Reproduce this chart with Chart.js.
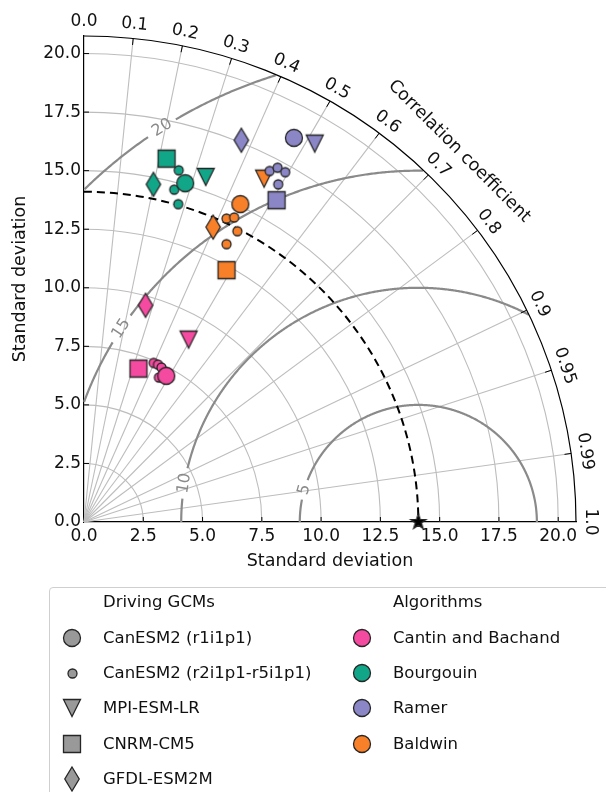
<!DOCTYPE html>
<html>
<head>
<meta charset="utf-8">
<script src="https://cdn.jsdelivr.net/npm/chart.js@4.4.1/dist/chart.umd.min.js"></script>
<style>
  html, body { margin: 0; padding: 0; background: #fff; overflow: hidden; }
  #wrap { position: relative; width: 606px; height: 792px; }
  #chart { position: absolute; left: 0; top: 0; }
  #legendBox { position: absolute; left: 49px; top: 587px; width: 640px; height: 260px;
               border: 1px solid #cfcfcf; border-radius: 4px; box-sizing: border-box; }
  .lg { position: absolute; height: 20px; line-height: 20px; white-space: nowrap;
        font-family: "DejaVu Sans", sans-serif; font-size: 16.5px; color: #111; }
  .mk { position: absolute; }
</style>
</head>
<body>
<div id="wrap">
  <canvas id="chart" width="606" height="792"></canvas>
  <div id="legendBox"></div>
</div>
<script>
// ----- DATOS -----
const algorithms = ['Cantin and Bachand', 'Bourgouin', 'Ramer', 'Baldwin'];
const algoColors = ['#f44a9f', '#12a688', '#8b86c6', '#f88028'];
const gcms = ['CanESM2 (r1i1p1)', 'CanESM2 (r2i1p1-r5i1p1)', 'MPI-ESM-LR', 'CNRM-CM5', 'GFDL-ESM2M'];

const refStd = 14.1;        // desviación estándar de referencia (estrella)
const maxStd = 20.75;       // radio exterior del diagrama
const stdTicks = [0, 2.5, 5, 7.5, 10, 12.5, 15, 17.5, 20];
const corrTicks = [0, 0.1, 0.2, 0.3, 0.4, 0.5, 0.6, 0.7, 0.8, 0.9, 0.95, 0.99, 1.0];
const rmsLevels = [5, 10, 15, 20];
const rmsLabelAngles = [164, 170.5, 146.6, 122.7];   // grados alrededor de la referencia

// CanESM2 (r1i1p1), un valor por algoritmo
const r1Std  = [7.14, 15.08, 18.64, 15.09];
const r1Corr = [0.486, 0.283, 0.475, 0.437];
// CanESM2 (r2i1p1-r5i1p1), cuatro miembros por algoritmo
const ensStd  = [[7.40, 7.41, 7.36, 6.93], [15.54, 15.09, 14.69, 14.14], [16.91, 17.19, 17.18, 16.58], [14.28, 14.46, 14.00, 13.30]];
const ensCorr = [[0.397, 0.421, 0.444, 0.456], [0.257, 0.280, 0.259, 0.281], [0.463, 0.475, 0.494, 0.494], [0.421, 0.438, 0.462, 0.452]];
// MPI-ESM-LR
const mpiStd  = [8.95, 15.60, 18.86, 16.51];
const mpiCorr = [0.493, 0.329, 0.516, 0.460];
// CNRM-CM5
const cnrmStd  = [6.94, 15.90, 15.96, 12.32];
const cnrmCorr = [0.331, 0.219, 0.509, 0.488];
// GFDL-ESM2M
const gfdlStd  = [9.61, 14.71, 17.60, 13.72];
const gfdlCorr = [0.270, 0.199, 0.377, 0.397];

const FONT = '"DejaVu Sans", sans-serif';

// Convierte (desviación, correlación) a coordenadas cartesianas
function toXY(s, c) {
    return { x: s * c, y: s * Math.sqrt(1 - c * c) };
}

/**
 * Dibuja un marcador en un canvas pequeño para usarlo como pointStyle
 */
function makeMarker(shape, fill, s) {
    const w = Math.ceil(s * 1.6) + 4;
    const c = document.createElement('canvas');
    c.width = w; c.height = w;
    const g = c.getContext('2d');
    g.translate(w / 2, w / 2);
    g.beginPath();
    if (shape === 'circle') {
        g.arc(0, 0, s / 2, 0, Math.PI * 2);
    } else if (shape === 'square') {
        g.rect(-s / 2, -s / 2, s, s);
    } else if (shape === 'tri') {
        g.moveTo(0, s / 2); g.lineTo(-s / 2, -s / 2); g.lineTo(s / 2, -s / 2); g.closePath();
    } else if (shape === 'diamond') {
        const h = s * 0.707, hw = h * 0.6;
        g.moveTo(0, -h); g.lineTo(hw, 0); g.lineTo(0, h); g.lineTo(-hw, 0); g.closePath();
    } else if (shape === 'star') {
        for (let i = 0; i < 10; i++) {
            const r = i % 2 === 0 ? s / 2 : s / 5;
            const a = -Math.PI / 2 + i * Math.PI / 5;
            i === 0 ? g.moveTo(r * Math.cos(a), r * Math.sin(a)) : g.lineTo(r * Math.cos(a), r * Math.sin(a));
        }
        g.closePath();
    }
    g.fillStyle = fill;
    g.fill();
    g.lineWidth = 1.3;
    g.strokeStyle = '#262626';
    g.stroke();
    return c;
}

// ----- DATASETS -----
const datasets = [];
algorithms.forEach((name, i) => {
    const col = algoColors[i];
    const add = (pts, shape, size) => datasets.push({
        label: name, data: pts, pointStyle: makeMarker(shape, col, size), pointRadius: 6, showLine: false
    });
    add([toXY(cnrmStd[i], cnrmCorr[i])], 'square', 17);
    add([toXY(gfdlStd[i], gfdlCorr[i])], 'diamond', 17);
    add([toXY(mpiStd[i], mpiCorr[i])], 'tri', 17);
    add([toXY(r1Std[i], r1Corr[i])], 'circle', 17);
    add(ensStd[i].map((s, k) => toXY(s, ensCorr[i][k])), 'circle', 9);
});
datasets.push({ label: 'Reference', data: [{ x: refStd, y: 0 }], pointStyle: makeMarker('star', '#000', 16), pointRadius: 6, clip: false });

// ----- REJILLA POLAR (plugin) -----
const polarGrid = {
    id: 'polarGrid',
    beforeDatasetsDraw(chart) {
        const { ctx, scales: { x, y } } = chart;
        const px = (sx, sy) => [x.getPixelForValue(sx), y.getPixelForValue(sy)];
        const ox = x.getPixelForValue(0), oy = y.getPixelForValue(0);
        const kx = x.getPixelForValue(1) - ox, ky = oy - y.getPixelForValue(1);
        ctx.save();

        // arcos de desviación estándar
        ctx.strokeStyle = '#bdbdbd';
        ctx.lineWidth = 1.1;
        stdTicks.filter(v => v > 0).forEach(r => {
            ctx.beginPath();
            ctx.ellipse(ox, oy, r * kx, r * ky, 0, -Math.PI / 2, 0);
            ctx.stroke();
        });
        // líneas radiales de correlación
        corrTicks.filter(c => c > 0 && c < 1).forEach(c => {
            const [X, Y] = px(maxStd * c, maxStd * Math.sqrt(1 - c * c));
            ctx.beginPath(); ctx.moveTo(ox, oy); ctx.lineTo(X, Y); ctx.stroke();
        });

        // contornos de RMS centrado
        ctx.strokeStyle = '#8a8a8a';
        ctx.lineWidth = 2.2;
        ctx.font = '16px ' + FONT;
        rmsLevels.forEach((r, i) => {
            const la = rmsLabelAngles[i] * Math.PI / 180;
            const tw = ctx.measureText(String(r)).width;
            const gap = (tw / 2 + 5) / (r * (kx + ky) / 2);
            ctx.beginPath();
            let pen = false;
            for (let a = 0; a <= 180; a += 0.25) {
                const t = a * Math.PI / 180;
                const sx = refStd + r * Math.cos(t), sy = r * Math.sin(t);
                const ok = sx >= 0 && Math.hypot(sx, sy) <= maxStd && Math.abs(t - la) > gap;
                if (ok) {
                    const [X, Y] = px(sx, sy);
                    pen ? ctx.lineTo(X, Y) : ctx.moveTo(X, Y);
                    pen = true;
                } else {
                    pen = false;
                }
            }
            ctx.stroke();
            const [LX, LY] = px(refStd + r * Math.cos(la), r * Math.sin(la));
            ctx.save();
            ctx.translate(LX, LY);
            ctx.rotate(-(la - Math.PI / 2));
            ctx.fillStyle = '#8a8a8a';
            ctx.textAlign = 'center';
            ctx.textBaseline = 'middle';
            ctx.fillText(String(r), 0, 0);
            ctx.restore();
        });

        // arco de referencia discontinuo
        ctx.strokeStyle = '#000';
        ctx.lineWidth = 2;
        ctx.setLineDash([8, 5]);
        ctx.beginPath();
        ctx.ellipse(ox, oy, refStd * kx, refStd * ky, 0, -Math.PI / 2, 0);
        ctx.stroke();
        ctx.setLineDash([]);

        // borde exterior
        ctx.lineWidth = 1.2;
        ctx.beginPath();
        ctx.ellipse(ox, oy, maxStd * kx, maxStd * ky, 0, -Math.PI / 2, 0);
        ctx.stroke();

        // marcas de correlación y etiquetas
        ctx.lineWidth = 1;
        ctx.font = '17px ' + FONT;
        ctx.fillStyle = '#111';
        ctx.textAlign = 'center';
        ctx.textBaseline = 'middle';
        corrTicks.forEach(c => {
            const sn = Math.sqrt(1 - c * c);
            if (c > 0 && c < 1) {
                const [X1, Y1] = px(maxStd * c, maxStd * sn);
                const [X2, Y2] = px((maxStd - 0.28) * c, (maxStd - 0.28) * sn);
                ctx.beginPath(); ctx.moveTo(X1, Y1); ctx.lineTo(X2, Y2); ctx.stroke();
            }
            const [LX, LY] = px(21.35 * c, 21.35 * sn);
            ctx.save();
            ctx.translate(LX, LY);
            ctx.rotate(Math.PI / 2 - Math.acos(c));
            ctx.fillText(String(c.toFixed(c === 0.95 || c === 0.99 ? 2 : 1)), 0, 0);
            ctx.restore();
        });
        const [TX, TY] = px(22.38 * Math.SQRT1_2, 22.38 * Math.SQRT1_2);
        ctx.save();
        ctx.translate(TX, TY);
        ctx.rotate(Math.PI / 4);
        ctx.font = '17.5px ' + FONT;
        ctx.fillText('Correlation coefficient', 0, 0);
        ctx.restore();

        // marcas internas de los ejes
        stdTicks.filter(v => v > 0).forEach(v => {
            const [X, Y] = px(v, 0);
            ctx.beginPath(); ctx.moveTo(X, Y); ctx.lineTo(X, Y - 5); ctx.stroke();
            const [X2, Y2] = px(0, v);
            ctx.beginPath(); ctx.moveTo(X2, Y2); ctx.lineTo(X2 + 5, Y2); ctx.stroke();
        });
        ctx.restore();
    }
};

const tickFont = { family: FONT, size: 17 };
const axisCommon = {
    type: 'linear',
    min: 0,
    max: maxStd,
    afterBuildTicks: s => { s.ticks = stdTicks.map(v => ({ value: v })); },
    ticks: { font: tickFont, color: '#111', autoSkip: false, maxRotation: 0, callback: v => v.toFixed(1) },
    grid: { display: true, drawOnChartArea: false, drawTicks: false },
    border: { display: true, color: '#000', width: 1.2 }
};

new Chart(document.getElementById('chart'), {
    type: 'scatter',
    data: { datasets: datasets },
    options: {
        responsive: false,
        animation: false,
        devicePixelRatio: 1,
        layout: { padding: { left: 0, right: 30, top: 36, bottom: 200 } },
        plugins: { legend: { display: false }, tooltip: { enabled: false } },
        scales: {
            x: Object.assign({}, axisCommon, {
                afterFit: s => { s.height = 70; },
                ticks: Object.assign({}, axisCommon.ticks, { padding: 4 }),
                title: { display: true, text: 'Standard deviation', font: { family: FONT, size: 17.5 }, color: '#111', padding: { top: 0, bottom: 20 } }
            }),
            y: Object.assign({}, axisCommon, {
                afterFit: s => { s.width = 84; },
                ticks: Object.assign({}, axisCommon.ticks, { padding: 3 }),
                title: { display: true, text: 'Standard deviation', font: { family: FONT, size: 17.5 }, color: '#111', padding: { top: 10, bottom: 0 } }
            })
        }
    },
    plugins: [polarGrid]
});

// ----- LEYENDA -----
const wrap = document.getElementById('wrap');
function addText(txt, left, cy) {
    const d = document.createElement('div');
    d.className = 'lg';
    d.textContent = txt;
    d.style.left = left + 'px';
    d.style.top = (cy - 10) + 'px';
    wrap.appendChild(d);
}
function addMarker(cv, cx, cy) {
    cv.className = 'mk';
    cv.style.left = (cx - cv.width / 2) + 'px';
    cv.style.top = (cy - cv.height / 2) + 'px';
    wrap.appendChild(cv);
}
const rowY = [638, 673, 708, 744, 779];
const gcmShapes = [['circle', 17], ['circle', 9], ['tri', 17], ['square', 17], ['diamond', 17]];
addText('Driving GCMs', 103, 602);
addText('Algorithms', 393, 602);
gcms.forEach((g, i) => {
    addMarker(makeMarker(gcmShapes[i][0], '#999999', gcmShapes[i][1]), 72, rowY[i]);
    addText(g, 103, rowY[i]);
});
algorithms.forEach((a, i) => {
    addMarker(makeMarker('circle', algoColors[i], 17), 362, rowY[i]);
    addText(a, 393, rowY[i]);
});
</script>
</body>
</html>
